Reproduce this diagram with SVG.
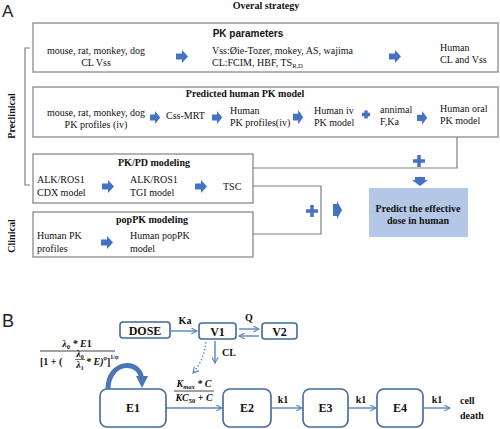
<svg xmlns="http://www.w3.org/2000/svg" xmlns:xlink="http://www.w3.org/1999/xlink" width="500" height="429" viewBox="0 0 500 429">
<style>
.bx{fill:#fff;stroke:#808080;stroke-width:1.2}
.ln{fill:none;stroke:#7f7f7f;stroke-width:1.2}
.t{font-family:"Liberation Serif","Times New Roman",serif;font-size:10px;fill:#111}
.b{font-weight:bold}
.s{font-family:"Liberation Sans",Arial,sans-serif}
.m{font-family:"Liberation Serif","Times New Roman",serif;font-size:10px;font-weight:bold;font-style:italic;fill:#111}
.ar{fill:#4472c4}
.pl{stroke:#4472c4;stroke-width:3.5}
.nd{fill:#fff;stroke:#42689c;stroke-width:1.6}
.nt{font-family:"Liberation Serif","Times New Roman",serif;font-size:12px;font-weight:bold;fill:#111;text-anchor:middle}
.cn{fill:none;stroke:#5a84be;stroke-width:1.4}
</style>
<defs>
<path id="ra" d="M0,3.5 H6 V0 L12,6.5 L6,13 V9.5 H0 Z"/>
<marker id="ah" viewBox="0 0 8 8" refX="7" refY="4" markerWidth="7" markerHeight="7" markerUnits="userSpaceOnUse" orient="auto">
<path d="M0.5,0.5 L7,4 L0.5,7.5" fill="none" stroke="#5a84be" stroke-width="1.3"/>
</marker>
<marker id="bh" viewBox="0 0 10 10" refX="5" refY="5" markerWidth="12" markerHeight="12" markerUnits="userSpaceOnUse" orient="auto">
<path d="M0,0 L10,5 L0,10 Z" fill="#4a76b5"/>
</marker>
</defs>

<!-- Panel A -->
<text x="2" y="17" class="s" font-size="17" fill="#222">A</text>
<text x="266" y="9" class="t b" text-anchor="middle">Overal strategy</text>

<g id="bracket">
<path class="ln" d="M30,48 H25 V185 H30"/>
<text class="t b" font-size="11" text-anchor="middle" transform="translate(15,116) rotate(-90)">Preclinical</text>
<text class="t b" font-size="11" text-anchor="middle" transform="translate(15,236) rotate(-90)">Clinical</text>
</g>

<g id="pk-parameters">
<rect class="bx" x="33" y="23" width="465" height="49"/>
<text x="248" y="37" class="s b" font-size="10" text-anchor="middle" fill="#111">PK parameters</text>
<text x="96" y="54" class="t" text-anchor="middle">mouse, rat, monkey, dog</text>
<text x="96" y="66" class="t" text-anchor="middle">CL Vss</text>
<use xlink:href="#ra" class="ar" transform="translate(176,50)"/>
<text x="212" y="54" class="t">Vss:Øie-Tozer, mokey, AS, wajima</text>
<text x="212" y="66" class="t">CL:FCIM, HBF, TS<tspan font-size="6.5" dy="2">R,D</tspan></text>
<use xlink:href="#ra" class="ar" transform="translate(389,50)"/>
<text x="440" y="51" class="t">Human</text>
<text x="440" y="63" class="t">CL and Vss</text>
</g>

<g id="predicted-human-pk">
<rect class="bx" x="33" y="87" width="465" height="50"/>
<text x="245" y="97" class="t b" text-anchor="middle">Predicted human PK model</text>
<text x="96" y="116" class="t" text-anchor="middle">mouse, rat, monkey, dog</text>
<text x="96" y="128" class="t" text-anchor="middle">PK profiles (iv)</text>
<use xlink:href="#ra" class="ar" transform="translate(150,111) scale(0.85,1)"/>
<text x="166" y="119" class="t">Css-MRT</text>
<use xlink:href="#ra" class="ar" transform="translate(212,111) scale(0.85,1)"/>
<text x="230" y="114" class="t">Human</text>
<text x="230" y="126" class="t">PK profiles(iv)</text>
<use xlink:href="#ra" class="ar" transform="translate(293,110) scale(0.85,1.1)"/>
<text x="314" y="114" class="t">Human iv</text>
<text x="314" y="126" class="t">PK model</text>
<path class="pl" stroke-width="3" d="M362,114.5 H370 M366,110.5 V118.5"/>
<text x="380" y="113" class="t">annimal</text>
<text x="380" y="125" class="t">F,Ka</text>
<use xlink:href="#ra" class="ar" transform="translate(417,111) scale(0.85,1.05)"/>
<text x="440" y="112" class="t">Human oral</text>
<text x="440" y="124" class="t">PK model</text>
</g>

<g id="pkpd-modeling">
<rect class="bx" x="33" y="154" width="220" height="49"/>
<text x="154" y="166" class="t b" text-anchor="middle">PK/PD modeling</text>
<text x="37" y="183" class="t">ALK/ROS1</text>
<text x="37" y="196" class="t">CDX model</text>
<use xlink:href="#ra" class="ar" transform="translate(102,180)"/>
<text x="130" y="183" class="t">ALK/ROS1</text>
<text x="130" y="196" class="t">TGI model</text>
<use xlink:href="#ra" class="ar" transform="translate(195,180)"/>
<text x="223" y="190" class="t">TSC</text>
</g>

<g id="poppk-modeling">
<rect class="bx" x="33" y="212" width="220" height="45"/>
<text x="152" y="223" class="t b" text-anchor="middle">popPK modeling</text>
<text x="37" y="239" class="t">Human PK</text>
<text x="37" y="252" class="t">profiles</text>
<use xlink:href="#ra" class="ar" transform="translate(101,236)"/>
<text x="130" y="239" class="t">Human popPK</text>
<text x="130" y="252" class="t">model</text>
</g>

<g id="predict-dose">
<rect x="369" y="188" width="99" height="49" fill="#b4c7e7"/>
<text x="418" y="212" class="t b" text-anchor="middle">Predict the effective</text>
<text x="418" y="224" class="t b" text-anchor="middle">dose in human</text>
</g>

<g id="connectors-a">
<path class="ln" d="M457,137 V168 H253"/>
<path class="pl" stroke-width="4" d="M413,161 H425 M419,155 V167"/>
<path class="ar" d="M415,177 H425 V180 H428 L420,186 L412,180 H415 Z"/>
<path class="ln" d="M253,186 H321 V234 H253"/>
<path class="pl" stroke-width="4" d="M306,211 H318 M312,205 V217"/>
<path class="ar" d="M333,204 H337 V201 L342,210 L337,219 V216 H333 Z"/>
</g>

<!-- Panel B -->
<text x="2" y="327" class="s" font-size="18" fill="#222">B</text>

<g id="DOSE"><rect class="nd" x="120" y="322" width="50" height="16" rx="3"/><text x="145" y="334.5" class="nt" font-size="11">DOSE</text></g>
<g id="V1"><rect class="nd" x="199" y="323" width="37" height="16" rx="3"/><text x="217.5" y="335.5" class="nt" font-size="11">V1</text></g>
<g id="V2"><rect class="nd" x="262" y="323" width="35" height="16" rx="3"/><text x="279.5" y="335.5" class="nt" font-size="11">V2</text></g>
<g id="E1"><rect class="nd" x="100" y="389" width="66" height="38" rx="7"/><text x="133" y="412" class="nt">E1</text></g>
<g id="E2"><rect class="nd" x="223" y="389" width="48" height="38" rx="7"/><text x="247" y="412" class="nt">E2</text></g>
<g id="E3"><rect class="nd" x="303" y="389" width="45" height="38" rx="7"/><text x="325.5" y="412" class="nt">E3</text></g>
<g id="E4"><rect class="nd" x="377" y="389" width="46" height="38" rx="7"/><text x="400" y="412" class="nt">E4</text></g>
<g id="cell-death"><text x="460" y="404" class="t b" font-size="11">cell</text><text x="460" y="419" class="t b" font-size="11">death</text></g>

<g id="connectors-b">
<path class="cn" marker-end="url(#ah)" d="M171,331 H197"/>
<text x="185" y="324" class="t b" font-size="11" text-anchor="middle">Ka</text>
<path class="cn" marker-end="url(#ah)" d="M239,329 H259"/>
<path class="cn" marker-end="url(#ah)" d="M259,336 H239"/>
<text x="249" y="321" class="t b" font-size="11" text-anchor="middle">Q</text>
<path class="cn" marker-end="url(#ah)" d="M215,341 V363"/>
<text x="222" y="356" class="t b" font-size="11">CL</text>
<path class="cn" stroke-dasharray="1.5,2" marker-end="url(#ah)" d="M206,342 Q204,360 193,373"/>
<path class="cn" marker-end="url(#ah)" d="M166,408 H222"/>
<path class="cn" marker-end="url(#ah)" d="M271,408 H302"/>
<text x="283" y="403" class="t b" text-anchor="middle">k1</text>
<path class="cn" marker-end="url(#ah)" d="M348,408 H376"/>
<text x="361" y="403" class="t b" text-anchor="middle">k1</text>
<path class="cn" marker-end="url(#ah)" d="M423,408 H450"/>
<text x="437" y="403" class="t b" text-anchor="middle">k1</text>
<path fill="none" stroke="#4a76b5" stroke-width="5" marker-end="url(#bh)" d="M108,389 C108,360 142,358 142,382"/>
</g>

<g id="formula-kmax">
<text x="194" y="387" class="m" text-anchor="middle">K<tspan font-size="6.5" dy="2">max</tspan><tspan dy="-2"> * C</tspan></text>
<line x1="174" y1="391" x2="214" y2="391" stroke="#111" stroke-width="0.8"/>
<text x="194" y="401" class="m" text-anchor="middle">KC<tspan font-size="6.5" dy="2" font-style="normal">50</tspan><tspan dy="-2"> + C</tspan></text>
</g>

<g id="formula-growth">
<text x="77" y="347" class="m" text-anchor="middle">λ<tspan font-size="6.5" dy="2" font-style="normal">0</tspan><tspan dy="-2"> * E</tspan><tspan font-style="normal">1</tspan></text>
<line x1="40" y1="351" x2="115" y2="351" stroke="#111" stroke-width="0.8"/>
<text x="40" y="365" class="m"><tspan font-style="normal">[1 + (</tspan></text>
<text x="80" y="357" class="m" font-size="9" text-anchor="middle">λ<tspan font-size="6" dy="1.5" font-style="normal">0</tspan></text>
<line x1="75" y1="359.5" x2="85" y2="359.5" stroke="#111" stroke-width="0.6"/>
<text x="80" y="368" class="m" font-size="9" text-anchor="middle">λ<tspan font-size="6" dy="1.5" font-style="normal">1</tspan></text>
<text x="86" y="365" class="m"> * E)<tspan font-size="6" dy="-5">φ</tspan><tspan dy="5" font-style="normal">]</tspan><tspan font-size="6" dy="-6" font-style="normal">1</tspan><tspan font-size="6" dy="0" font-style="normal">/</tspan><tspan font-size="6">φ</tspan></text>
</g>
</svg>
